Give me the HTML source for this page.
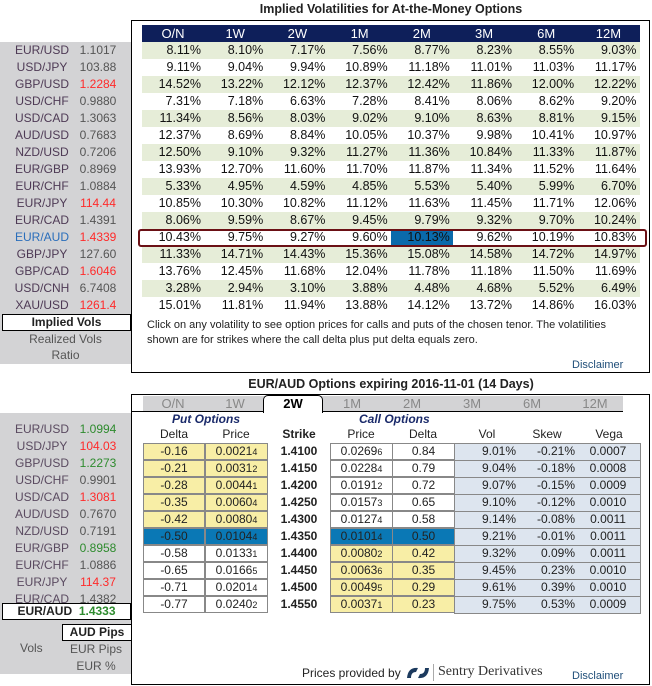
<!DOCTYPE html>
<html><head><meta charset="utf-8"><style>
body{margin:0;width:652px;height:686px;background:#fff;font-family:"Liberation Sans",sans-serif;font-size:12px;position:relative;overflow:hidden;color:#222}
.a{position:absolute;white-space:nowrap}
.c{text-align:center}
.r{text-align:right}
</style></head><body>
<div class="a c" style="left:132px;width:518px;top:2px;font-weight:bold;font-size:12.5px">Implied Volatilities for At-the-Money Options</div>
<div class="a" style="left:131px;top:20px;width:517px;height:351px;border:1.5px solid #000"></div>
<div class="a" style="left:0;top:42px;width:131px;height:322px;background:#d3d3d5"></div>
<div class="a" style="left:142px;top:25px;width:498px;height:17px;background:#0e1f5a"></div>
<div id="topT"></div>
<div class="a" style="left:138px;top:229px;width:505px;height:14px;border:2px solid #6b1015;border-radius:3px"></div>
<div class="a c" style="left:2px;top:314px;width:127px;height:15px;background:#fff;border:1px solid #000;font-weight:bold;line-height:15px">Implied Vols</div>
<div class="a c" style="left:2px;top:331px;width:127px;line-height:16px;color:#555">Realized Vols</div>
<div class="a c" style="left:2px;top:347px;width:127px;line-height:16px;color:#555">Ratio</div>
<div class="a" style="left:147px;top:318px;font-size:11px;line-height:15px">Click on any volatility to see option prices for calls and puts of the chosen tenor. The volatilities<br>shown are for strikes where the call delta plus put delta equals zero.</div>
<div class="a" style="left:572px;top:359px;font-size:11px;color:#1f4e79">Disclaimer</div>

<div class="a c" style="left:132px;width:518px;top:377px;font-weight:bold;font-size:12.5px">EUR/AUD Options expiring 2016-11-01 (14 Days)</div>
<div class="a" style="left:131px;top:394px;width:517px;height:289px;border:1.5px solid #000"></div>
<div class="a" style="left:0;top:413px;width:131px;height:261px;background:#d3d3d5"></div>
<div class="a" style="left:143px;top:396px;width:480px;height:15px;background:#d3d3d5;border-bottom:1px solid #000"></div>
<div class="a" style="left:132px;top:411px;width:12px;height:1px;background:#000"></div>
<div class="a" style="left:263px;top:395px;width:58px;height:17px;background:#fff;border:1px solid #000;border-bottom:none;border-radius:5px 5px 0 0"></div>
<div id="botT"></div>
<div class="a" style="left:172px;top:412px;font-style:italic;font-weight:bold;color:#1a2a6a">Put Options</div>
<div class="a" style="left:359px;top:412px;font-style:italic;font-weight:bold;color:#1a2a6a">Call Options</div>
<div class="a c" style="left:2px;top:603px;width:127px;height:15px;background:#fff;border:1px solid #000;font-weight:bold;line-height:15px">EUR/AUD &nbsp;<span style="color:#2e8b2e">1.4333</span></div>
<div class="a c" style="left:62px;top:624px;width:68px;height:15px;background:#fff;border:1px solid #000;font-weight:bold;line-height:15px">AUD Pips</div>
<div class="a" style="left:20px;top:641px;color:#555">Vols</div>
<div class="a c" style="left:62px;top:642px;width:68px;color:#555">EUR Pips</div>
<div class="a c" style="left:62px;top:659px;width:68px;color:#555">EUR %</div>
<div class="a" style="left:302px;top:666px">Prices provided by</div>
<svg class="a" style="left:404px;top:664px" width="28" height="18"><path d="M3 14 Q4 3 14 4 L12 8 Q7 8 7 14Z" fill="#1c3a5e"/><path d="M25 4 Q24 15 14 14 L16 10 Q21 10 21 4Z" fill="#1c3a5e"/></svg>
<div class="a" style="left:433px;top:664px;width:1px;height:17px;background:#aaa"></div>
<div class="a" style="left:438px;top:664px;font-family:'Liberation Serif',serif;font-size:14px;color:#333">Sentry Derivatives</div>
<div class="a" style="left:572px;top:670px;font-size:11px;color:#1f4e79">Disclaimer</div>

<script>
const tenors=["O/N","1W","2W","1M","2M","3M","6M","12M"];
const pairs=["EUR/USD","USD/JPY","GBP/USD","USD/CHF","USD/CAD","AUD/USD","NZD/USD","EUR/GBP","EUR/CHF","EUR/JPY","EUR/CAD","EUR/AUD","GBP/JPY","GBP/CAD","USD/CNH","XAU/USD"];
const spots=["1.1017","103.88","1.2284","0.9880","1.3063","0.7683","0.7206","0.8969","1.0884","114.44","1.4391","1.4339","127.60","1.6046","6.7408","1261.4"];
const spotColors=["","","r","","","","","","","r","","r","","r","","r"];
const vols=[
[8.11,8.10,7.17,7.56,8.77,8.23,8.55,9.03],
[9.11,9.04,9.94,10.89,11.18,11.01,11.03,11.17],
[14.52,13.22,12.12,12.37,12.42,11.86,12.00,12.22],
[7.31,7.18,6.63,7.28,8.41,8.06,8.62,9.20],
[11.34,8.56,8.03,9.02,9.10,8.63,8.81,9.15],
[12.37,8.69,8.84,10.05,10.37,9.98,10.41,10.97],
[12.50,9.10,9.32,11.27,11.36,10.84,11.33,11.87],
[13.93,12.70,11.60,11.70,11.87,11.34,11.52,11.64],
[5.33,4.95,4.59,4.85,5.53,5.40,5.99,6.70],
[10.85,10.30,10.82,11.12,11.63,11.45,11.71,12.06],
[8.06,9.59,8.67,9.45,9.79,9.32,9.70,10.24],
[10.43,9.75,9.27,9.60,10.13,9.62,10.19,10.83],
[11.33,14.71,14.43,15.36,15.08,14.58,14.72,14.97],
[13.76,12.45,11.68,12.04,11.78,11.18,11.50,11.69],
[3.28,2.94,3.10,3.88,4.48,4.68,5.52,6.49],
[15.01,11.81,11.94,13.88,14.12,13.72,14.86,16.03]];
const selRow=11, selCol=4;
const pairs2=["EUR/USD","USD/JPY","GBP/USD","USD/CHF","USD/CAD","AUD/USD","NZD/USD","EUR/GBP","EUR/CHF","EUR/JPY","EUR/CAD"];
const spots2=["1.0994","104.03","1.2273","0.9901","1.3081","0.7670","0.7191","0.8958","1.0886","114.37","1.4382"];
const spotColors2=["g","r","g","","r","","","g","","r",""];
const strikes=["1.4100","1.4150","1.4200","1.4250","1.4300","1.4350","1.4400","1.4450","1.4500","1.4550"];
const putDelta=[-0.16,-0.21,-0.28,-0.35,-0.42,-0.50,-0.58,-0.65,-0.71,-0.77];
const putPrice=["0.00214","0.00312","0.00441","0.00604","0.00804","0.01044","0.01331","0.01665","0.02014","0.02402"];
const callPrice=["0.02696","0.02284","0.01912","0.01573","0.01274","0.01014","0.00802","0.00636","0.00495","0.00371"];
const callDelta=[0.84,0.79,0.72,0.65,0.58,0.50,0.42,0.35,0.29,0.23];
const strikeVol=[9.01,9.04,9.07,9.10,9.14,9.21,9.32,9.45,9.61,9.75];
const skew=[-0.21,-0.18,-0.15,-0.12,-0.08,-0.01,0.09,0.23,0.39,0.53];
const vega=["0.0007","0.0008","0.0009","0.0010","0.0011","0.0011","0.0011","0.0010","0.0010","0.0009"];
const atm=5;

const colr={r:"#ff2a2a",g:"#2e8b2e","":"#555"};
function mk(parent,css,txt){const d=document.createElement('div');d.className='a';d.style.cssText=css;if(txt!==undefined)d.textContent=txt;parent.appendChild(d);return d;}
const topEl=document.getElementById('topT'),botEl=document.getElementById('botT');
const colX=i=>142+i*62.2, rowY=i=>42+i*17;
tenors.forEach((t,i)=>{
  const e=mk(topEl,`left:${colX(i)}px;top:25px;width:62px;line-height:17px;text-align:center;color:#fff;font-size:13px`,t);
  
  
});
pairs.forEach((p,r)=>{
  if(r%2==0){const b=mk(topEl,`left:142px;top:${rowY(r)}px;width:498px;height:17px;background:#e6edd8`);
    
    }
  const a=mk(topEl,`left:4px;top:${rowY(r)}px;width:76px;line-height:17px;text-align:center;color:${r==selRow?'#2a6ebb':'#4e3a55'}`,p);
  
  
  const v=mk(topEl,`left:78px;top:${rowY(r)}px;width:40px;line-height:17px;text-align:center;color:${colr[spotColors[r]]}`,spots[r]);
  
  
  vols[r].forEach((x,c)=>{
    if(r==selRow&&c==selCol){const h=mk(topEl,`left:${colX(c)}px;top:${rowY(r)}px;width:62px;height:17px;background:#0a6aab`);
      
      }
    const e=mk(topEl,`left:${colX(c)}px;top:${rowY(r)}px;width:59px;line-height:17px;text-align:right;font-size:12.5px;color:#111`,x.toFixed(2)+'%');
    
    
  });
});
const tabX=[173,235,293,352,412,472,532,595];
tenors.forEach((t,i)=>{
  const e=mk(botEl,`left:${tabX[i]-30}px;top:396px;width:60px;line-height:15px;text-align:center;font-size:13px;${i==2?'font-weight:bold;color:#000':'color:#888'}`,t);
  
  
});
[["Delta",174],["Price",236],["Strike",299],["Price",361],["Delta",423],["Vol",487],["Skew",547],["Vega",609]].forEach(([t,x],i)=>{
  const e=mk(botEl,`left:${x-30}px;top:427px;width:60px;text-align:center;${i==2?'font-weight:bold':''}`,t);
  
  
});
const bY=i=>443+i*17;
const vb=mk(botEl,`left:454px;top:443px;width:185px;height:169px;background:#dde5ef;border:1px solid #888`);


function cell(x,w,y,bg,txt,name){
  const e=mk(botEl,`left:${x}px;top:${y}px;width:${w-2}px;height:15px;line-height:15px;border:1px solid #888;background:${bg};text-align:center;color:#222`,txt);
  
  
  return e;
}
const Y="#f8eea6",B="#0a78b5",W="#fff";
function price(s){return s.slice(0,-1)+'<small style="font-size:9px">'+s.slice(-1)+'</small>';}
for(let r=0;r<10;r++){const l=mk(botEl,`left:454px;top:${bY(r)}px;width:187px;height:1px;background:#888`);
  
  }
strikes.forEach((s,r)=>{
  const pb=r<atm?Y:r==atm?B:W, cb=r<atm?W:r==atm?B:Y;
  cell(143,62,bY(r),pb,putDelta[r].toFixed(2),'put-delta');
  cell(205,63,bY(r),pb,'','put-price').innerHTML=price(putPrice[r]);
  const st=mk(botEl,`left:269px;top:${bY(r)}px;width:60px;line-height:17px;text-align:center;font-weight:bold`,s);
  
  
  cell(330,63,bY(r),cb,'','call-price').innerHTML=price(callPrice[r]);
  cell(392,63,bY(r),cb,callDelta[r].toFixed(2),'call-delta');
  const v=mk(botEl,`left:455px;top:${bY(r)}px;width:61px;line-height:17px;text-align:right`,strikeVol[r].toFixed(2)+'%');
  
  
  const k=mk(botEl,`left:516px;top:${bY(r)}px;width:59px;line-height:17px;text-align:right`,skew[r].toFixed(2)+'%');
  
  
  const g=mk(botEl,`left:580px;top:${bY(r)}px;width:56px;line-height:17px;text-align:center`,vega[r]);
  
  
});
pairs2.forEach((p,r)=>{
  const a=mk(botEl,`left:4px;top:${421+r*17}px;width:76px;line-height:17px;text-align:center;color:#5a4a60`,p);
  
  
  const v=mk(botEl,`left:78px;top:${421+r*17}px;width:40px;line-height:17px;text-align:center;color:${colr[spotColors2[r]]}`,spots2[r]);
  
  
});
</script>
</body></html>
